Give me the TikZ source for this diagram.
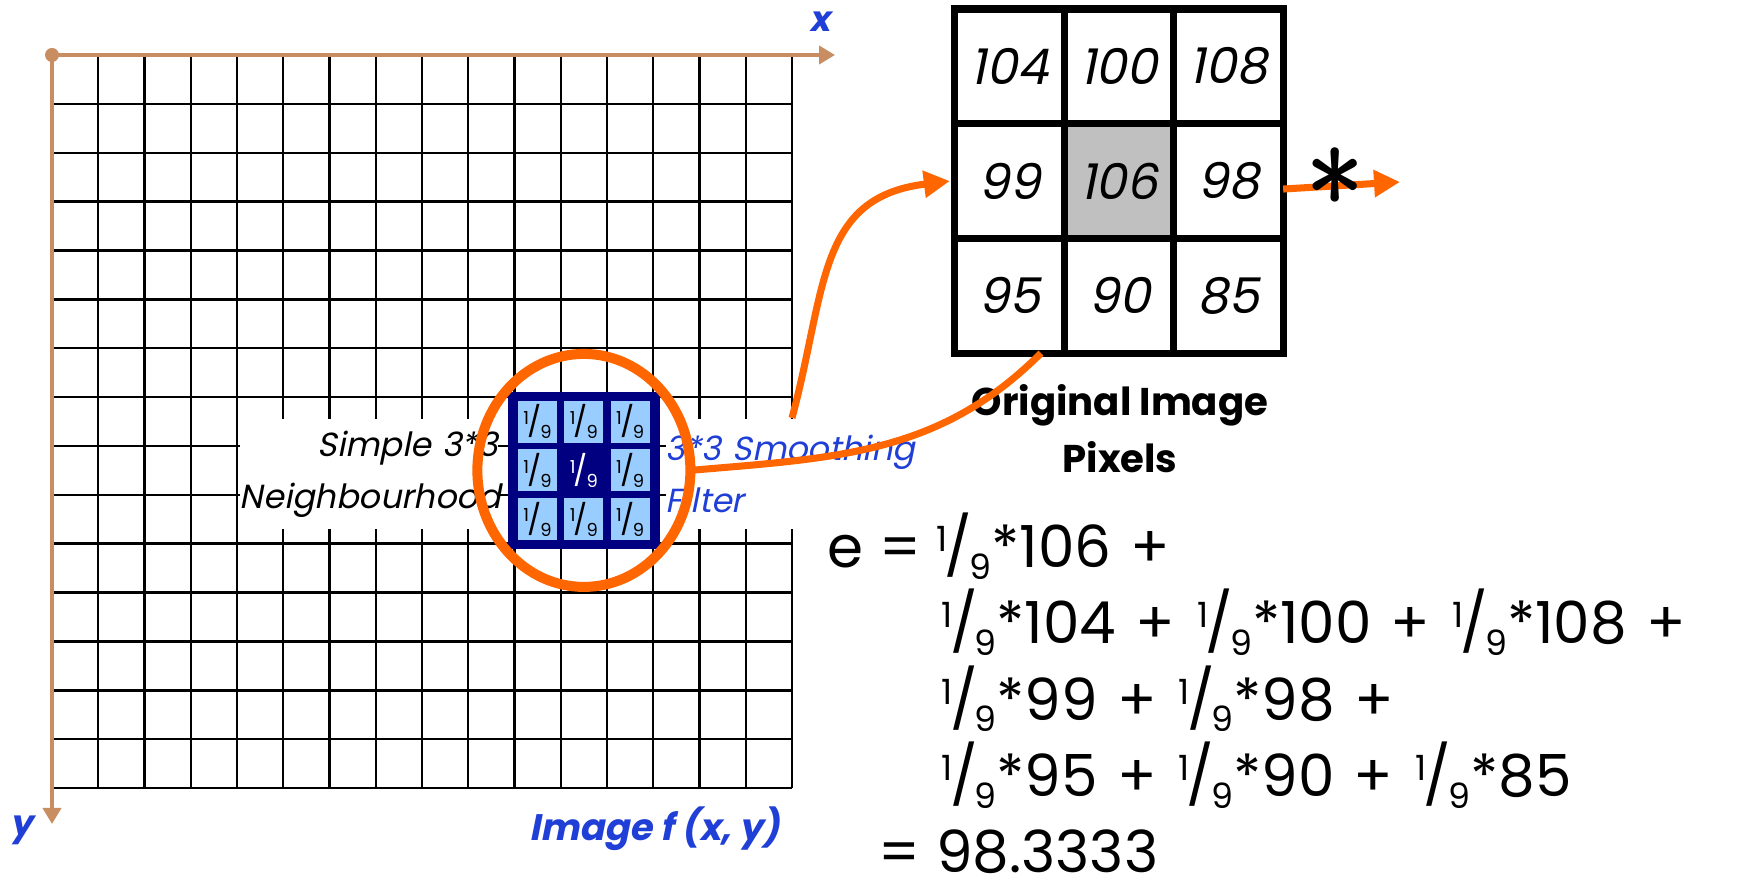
\documentclass[tikz,border=0pt]{standalone}
\usepackage{fontspec}
\setmainfont{Poppins}
\newfontfamily\slantfont{Poppins}[FakeSlant=0.2]
\usetikzlibrary{arrows.meta, positioning, shapes.geometric, calc}
\definecolor{caxis}{HTML}{C98D62}
\definecolor{corange}{HTML}{FF6600}
\definecolor{cblue}{HTML}{1F3FD6}
\definecolor{cnavy}{HTML}{000080}
\definecolor{clight}{HTML}{99CCFF}
\definecolor{cgrey}{HTML}{C0C0C0}
\newcommand{\ninth}{\raisebox{.28em}{\scalebox{.6}{1}}\kern-.05em/\kern-.05em\raisebox{-.2em}{\scalebox{.6}{9}}}
\newcommand{\plus}{\hspace{.33em}+\hspace{.38em}}
\tikzset{
  every picture/.style={line width=1pt},
  gridline/.style={draw=black, line width=1.4pt},
  axis/.style={draw=caxis, line width=2.6pt, -{Triangle[length=3.2mm, width=3.6mm]}},
  axlabel/.style={text=cblue, inner sep=0pt, font=\slantfont\bfseries\fontsize{20}{24}\selectfont},
  lbl/.style={fill=white, inner xsep=0pt, inner ysep=0pt, minimum height=2.2cm, anchor=north west, font=\slantfont\fontsize{19}{29.6}\selectfont},
  kcell/.style={fill=clight, minimum width=7.8mm, minimum height=8.4mm, inner sep=0pt, font=\fontsize{17}{17}\selectfont},
  pix/.style={draw, line width=4pt, minimum width=2.186cm, minimum height=2.294cm, inner sep=0pt, outer sep=0pt, font=\slantfont\fontsize{28}{28}\selectfont},
  flow/.style={draw=corange, line width=4pt, -{Triangle[length=5.2mm, width=5.2mm]}},
  eqn/.style={anchor=base west, inner sep=0pt, font=\fontsize{33}{33}\selectfont},
}

\begin{document}
\begin{tikzpicture}
  \useasboundingbox (0,0) rectangle (34.86,-17.88);
  \fill[white] (0,0) rectangle (34.86,-17.88);
  % image grid f(x,y), 16 x 15 pixels
  \foreach \i in {0,...,16}
    \draw[gridline] ({1.04+0.925*\i},-1.10) -- ({1.04+0.925*\i},-15.76);
  \foreach \j in {0,...,15}
    \draw[gridline] (1.04,{-1.10-0.9774*\j}) -- (15.84,{-1.10-0.9774*\j});
  % axes
  \node[circle, fill=caxis, minimum size=2.8mm, inner sep=0pt] (org) at (1.04,-1.10) {};
  \coordinate (xend) at (16.7,-1.10);
  \coordinate (yend) at (1.04,-16.48);
  \draw[axis] (org.center) -- (xend);
  \draw[axis] (org.center) -- (yend);
  \node[axlabel] (xlab) at (16.4,-0.44) {x};
  \node[axlabel] (ylab) at (0.44,-16.6) {y};
  \node[axlabel, font=\slantfont\bfseries\fontsize{21}{24}\selectfont] (imglab) at (13.1,-16.58) {Image f (x, y)};
  % labels either side of the filter
  \node[lbl, text width=5.16cm, align=right] (nbhd) at (4.78,-8.36) {Simple 3*3\\Neighbourhood};
  \node[lbl, text width=5cm, align=left, text=cblue] (sflt) at (13.3,-8.36) {3*3 Smoothing\\Filter};
  % 3x3 smoothing filter
  \node[fill=cnavy, minimum width=3.03cm, minimum height=3.13cm, inner sep=0pt] (filt) at (11.6775,-9.408) {};
  \foreach \r/\c in {1/1,1/2,1/3,2/1,2/3,3/1,3/2,3/3}
    \node[kcell] (k\r\c) at ($(filt)+({0.925*(\c-2)},{-0.9774*(\r-2)})$) {\ninth};
  \node[kcell, fill=cnavy, text=white] (k22) at (filt) {\ninth};
  \node[ellipse, draw=corange, line width=5.7pt, minimum width=4.26cm, minimum height=4.66cm, inner sep=0pt, outer sep=0pt] (ring) at (filt) {};
  % original image pixels
  \fill[cgrey] (21.287,-2.473) rectangle (23.473,-4.767);
  \foreach \a/\b/\cc [count=\r] in {104/100/108, 99/106/98, 95/90/85} {
    \node[pix] (p\r1) at (20.19,{-1.327-2.294*(\r-1)}) {\a};
    \node[pix] (p\r2) at (22.38,{-1.327-2.294*(\r-1)}) {\b};
    \node[pix] (p\r3) at (24.57,{-1.327-2.294*(\r-1)}) {\cc};
  }
  \node[font=\bfseries\fontsize{22}{32.4}\selectfont, align=center] (orig) at (22.4,-8.57) {Original Image\\Pixels};
  % orange connectors
  \coordinate (cut) at (15.84,-8.36);
  \draw[flow] (cut) to[out=75, in=187, looseness=1.2] ([xshift=-1mm]p21.west);
  \draw[draw=corange, line width=4pt] ([xshift=6.3mm]p31.south) to[out=225, in=5] (ring.east);
  \coordinate (outend) at (28.0,-3.64);
  \draw[flow] ([yshift=-1.6mm]p23.east) -- (outend);
  \node[font=\sffamily\fontsize{72}{72}\selectfont, inner sep=0pt] (star) at (26.7,-3.9) {*};
  % the sum
  \node[eqn] (eq1) at (16.54,-11.36) {e = \ninth*106\plus};
  \node[eqn] (eq2) at (18.82,-12.88) {\ninth*104\plus\ninth*100\plus\ninth*108\plus};
  \node[eqn] (eq3) at (18.82,-14.405) {\ninth*99\plus\ninth*98\plus};
  \node[eqn] (eq4) at (18.82,-15.93) {\ninth*95\plus\ninth*90\plus\ninth*85};
  \node[eqn] (eq5) at (17.56,-17.45) {= 98.3333};
\end{tikzpicture}
\end{document}
